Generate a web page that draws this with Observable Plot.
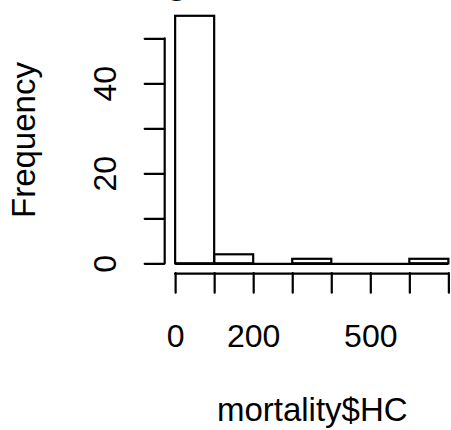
<!DOCTYPE html>
<html><head><meta charset="utf-8">
<script src="https://cdn.jsdelivr.net/npm/d3@7"></script>
<script src="https://cdn.jsdelivr.net/npm/@observablehq/plot@0.6"></script>
<style>html,body{margin:0;padding:0;background:#fff;}</style>
</head><body><div id="chart"></div>
<script>
// ---- data ----
const binEdges = [0, 100, 200, 300, 400, 500, 600, 700];
const counts = [55, 2, 0, 1, 0, 0, 1];
const xTicks = [0, 100, 200, 300, 400, 500, 600, 700];
const xTickLabels = [0, 200, 500];
const yTicks = [0, 10, 20, 30, 40, 50];
const yTickLabels = [0, 20, 40];
const titleText = "Histogram of mortality$HC";
const xLabel = "mortality$HC";
const yLabel = "Frequency";

const bins = counts.map((c, i) => ({x1: binEdges[i], x2: binEdges[i + 1], count: c}));

// R-style plot region: data range extended by 4%
const xr = [d3.min(binEdges), d3.max(binEdges)];
const yr = [0, d3.max(counts)];
const xDomain = [xr[0] - 0.04 * (xr[1] - xr[0]), xr[1] + 0.04 * (xr[1] - xr[0])];
const yDomain = [yr[0] - 0.04 * (yr[1] - yr[0]), yr[1] + 0.04 * (yr[1] - yr[0])];

const W = 451, H = 430;
const mL = 164.2, mR = -8.3, mT = 5.9, mB = 156.8;
const plotW = W - mL - mR, plotH = H - mT - mB;
const xPerPx = (xDomain[1] - xDomain[0]) / plotW;
const yPerPx = (yDomain[1] - yDomain[0]) / plotH;
const tickPx = 19.5;
const FONT = "'Liberation Sans', Arial, Helvetica, sans-serif";
const lw = 2.2;

const chart = Plot.plot({
  width: W, height: H,
  marginLeft: mL, marginRight: mR, marginTop: mT, marginBottom: mB,
  style: {fontFamily: FONT, fontSize: "32px", background: "white", color: "black", overflow: "visible"},
  x: {domain: xDomain, axis: null},
  y: {domain: yDomain, axis: null},
  marks: [
    // histogram bars
    Plot.rect(bins, {x1: "x1", x2: "x2", y1: 0, y2: "count", fill: "none", stroke: "black", strokeWidth: lw, inset: 0}),
    Plot.ruleY([0], {x1: xr[0], x2: xr[1], stroke: "black", strokeWidth: lw}),
    // x axis
    Plot.ruleY([yDomain[0]], {x1: xTicks[0], x2: xTicks[xTicks.length - 1], stroke: "black", strokeWidth: lw, strokeLinecap: "round"}),
    Plot.ruleX(xTicks, {x: d => d, y1: yDomain[0], y2: yDomain[0] - tickPx * yPerPx, stroke: "black", strokeWidth: lw, strokeLinecap: "round"}),
    Plot.text(xTickLabels, {x: d => d, text: d => String(d), frameAnchor: "bottom", dy: 63.5, fontSize: 32, lineAnchor: "middle", textAnchor: "middle"}),
    Plot.text([xLabel], {text: d => d, frameAnchor: "bottom", dy: 136.8, fontSize: 33, lineAnchor: "middle", textAnchor: "middle"}),
    // y axis
    Plot.ruleX([xDomain[0]], {y1: yTicks[0], y2: yTicks[yTicks.length - 1], stroke: "black", strokeWidth: lw, strokeLinecap: "round"}),
    Plot.ruleY(yTicks, {y: d => d, x1: xDomain[0], x2: xDomain[0] - tickPx * xPerPx, stroke: "black", strokeWidth: lw, strokeLinecap: "round"}),
    Plot.text(yTickLabels, {y: d => d, text: d => String(d), frameAnchor: "left", dx: -59.4, rotate: -90, fontSize: 32, lineAnchor: "middle", textAnchor: "middle"}),
    Plot.text([yLabel], {text: d => d, frameAnchor: "left", dx: -139.8, rotate: -90, fontSize: 33, lineAnchor: "middle", textAnchor: "middle"}),
    // title (mostly above the visible window, as in the reference)
    Plot.text([titleText], {text: d => d, frameAnchor: "top", dy: -26, fontSize: 38.4, fontWeight: "bold", lineAnchor: "middle", textAnchor: "middle"})
  ]
});
document.getElementById("chart").appendChild(chart);
</script>
</body></html>
